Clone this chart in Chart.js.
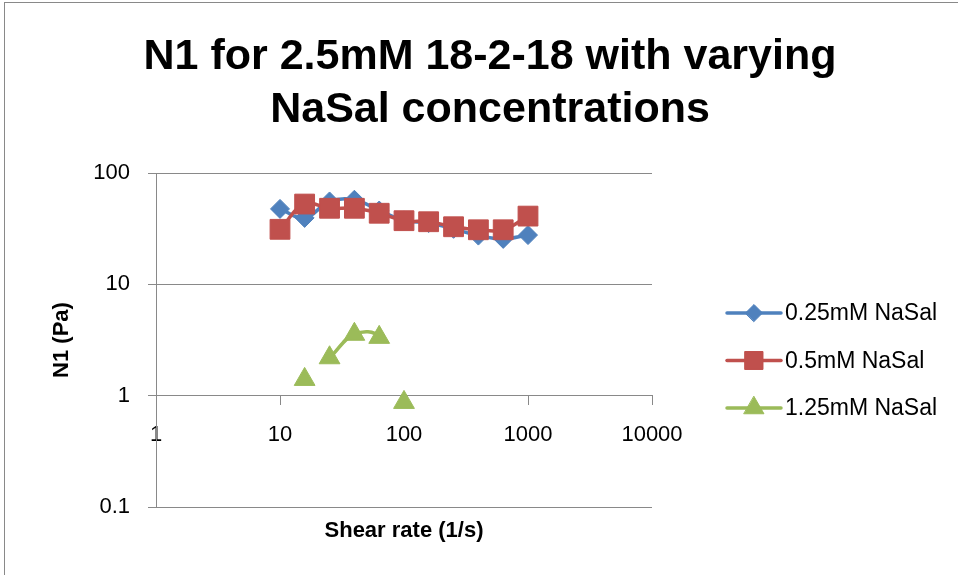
<!DOCTYPE html>
<html>
<head>
<meta charset="utf-8">
<script src="https://cdn.jsdelivr.net/npm/chart.js@4.4.1/dist/chart.umd.min.js"></script>
<style>
  html, body { margin: 0; padding: 0; background: #ffffff; overflow: hidden; }
  #wrap { position: relative; width: 980px; height: 575px; }
</style>
</head>
<body>
<div id="wrap"><canvas id="c" width="980" height="575"></canvas></div>
<script>
// ---- data ----
const titleLines = ['N1 for 2.5mM 18-2-18 with varying', 'NaSal concentrations'];
const xAxisTitle = 'Shear rate (1/s)';
const yAxisTitle = 'N1 (Pa)';
const seriesNames = ['0.25mM NaSal', '0.5mM NaSal', '1.25mM NaSal'];

const shearRates = [10, 15.8, 25.1, 39.8, 63.1, 100, 158, 251, 398, 631, 1000];
const n1_025mM  = [47.6, 39.5, 55.5, 57.5, 46, 37.5, 35.5, 31.5, 27.4, 25.6, 27.7];
const n1_05mM   = [31.2, 52.6, 48.2, 48.2, 43.5, 37.3, 36.5, 32.9, 30.9, 30.9, 41.0];
const shearRates125 = [15.8, 25.1, 39.8, 63.1, 100];
const n1_125mM  = [1.40, 2.19, 3.56, 3.34, 0.87];
// which consecutive points of the 1.25mM series are joined by a line
const linked125 = [false, true, true, false];

const xTickValues = [1, 10, 100, 1000, 10000];
const yTickValues = [0.1, 1, 10, 100];

// ---- styling ----
const BLUE = '#4F81BD', RED = '#C0504D', GREEN = '#9BBB59';
const GRAY = '#898989';
const FONT = "'Liberation Sans', Arial, sans-serif";
Chart.defaults.font.family = FONT;
Chart.defaults.color = '#000000';

const toPoints = (xs, ys) => xs.map((x, i) => ({ x: x, y: ys[i] }));

// gray frame of the chart object (partially cropped in the reference)
const framePlugin = {
  id: 'frame',
  beforeDraw(chart) {
    const ctx = chart.ctx;
    ctx.save();
    ctx.strokeStyle = GRAY;
    ctx.lineWidth = 1;
    ctx.strokeRect(4.5, 2.5, 3000, 3000);
    ctx.restore();
  }
};

// Excel-like legend: line sample with marker in the middle
function drawMarker(ctx, style, x, y, r) {
  ctx.beginPath();
  if (style === 'rectRot') {
    ctx.moveTo(x - r, y); ctx.lineTo(x, y - r); ctx.lineTo(x + r, y); ctx.lineTo(x, y + r);
  } else if (style === 'rect') {
    const s = r * Math.SQRT1_2;
    ctx.rect(x - s, y - s, 2 * s, 2 * s);
  } else if (style === 'triangle') {
    const w = r * Math.sin(Math.PI / 3);
    ctx.moveTo(x, y - r); ctx.lineTo(x + w, y + r / 2); ctx.lineTo(x - w, y + r / 2);
  }
  ctx.closePath();
  ctx.fill();
  ctx.stroke();
}
const legendPlugin = {
  id: 'excelLegend',
  afterDraw(chart) {
    const ctx = chart.ctx;
    const area = chart.chartArea;
    const lineX = area.right + 75, lineLen = 54, textX = lineX + lineLen + 4;
    const y0 = 313, dy = 47.5;
    const legendRadius = [8.5, 12.7, 11.5];
    chart.data.datasets.forEach((ds, i) => {
      const y = y0 + i * dy;
      ctx.save();
      ctx.strokeStyle = ds.borderColor;
      ctx.lineWidth = 3.5;
      ctx.lineCap = 'round';
      ctx.beginPath();
      ctx.moveTo(lineX, y); ctx.lineTo(lineX + lineLen, y);
      ctx.stroke();
      ctx.fillStyle = ds.backgroundColor;
      ctx.lineWidth = 1;
      drawMarker(ctx, ds.pointStyle, lineX + lineLen / 2, y, legendRadius[i]);
      ctx.fillStyle = '#000000';
      ctx.font = '23px ' + FONT;
      ctx.textAlign = 'left';
      ctx.textBaseline = 'middle';
      ctx.fillText(ds.label, textX, y + 1);
      ctx.restore();
    });
  }
};

new Chart(document.getElementById('c'), {
  type: 'line',
  data: {
    datasets: [
      {
        label: seriesNames[0],
        data: toPoints(shearRates, n1_025mM),
        borderColor: BLUE, backgroundColor: BLUE,
        pointStyle: 'rectRot', pointRadius: 9.5, pointBorderWidth: 1,
        borderWidth: 3.5, tension: 0.4, order: 2
      },
      {
        label: seriesNames[1],
        data: toPoints(shearRates, n1_05mM),
        borderColor: RED, backgroundColor: RED,
        pointStyle: 'rect', pointRadius: 14, pointBorderWidth: 1,
        borderWidth: 3.5, tension: 0.4, order: 1
      },
      {
        label: seriesNames[2],
        data: toPoints(shearRates125, n1_125mM),
        borderColor: GREEN, backgroundColor: GREEN,
        pointStyle: 'triangle', pointRadius: 12, pointBorderWidth: 1,
        borderWidth: 3.5, tension: 0.4, order: 0,
        segment: {
          borderColor: c => linked125[c.p0DataIndex] ? GREEN : 'rgba(0,0,0,0)'
        }
      }
    ]
  },
  options: {
    responsive: false,
    animation: false,
    devicePixelRatio: 1,
    layout: { padding: 0 },
    plugins: {
      legend: { display: false },
      tooltip: { enabled: false },
      title: {
        display: true,
        text: titleLines,
        color: '#000000',
        font: { family: FONT, size: 43, weight: 'bold', lineHeight: 53 / 43 },
        padding: { top: 30.5, bottom: 36.5 }
      }
    },
    scales: {
      x: {
        type: 'logarithmic',
        min: 1, max: 10000,
        position: { y: 1 },
        afterBuildTicks: s => { s.ticks = xTickValues.map(v => ({ value: v })); },
        ticks: {
          callback: v => String(v),
          font: { size: 22 }, color: '#000000',
          padding: 17, maxRotation: 0, autoSkip: false
        },
        grid: { drawOnChartArea: false, drawTicks: true, tickLength: 9, color: GRAY, lineWidth: 1 },
        border: { display: true, color: GRAY, width: 1 }
      },
      y: {
        type: 'logarithmic',
        min: 0.1, max: 100,
        position: 'left',
        afterBuildTicks: s => { s.ticks = yTickValues.map(v => ({ value: v })); },
        afterFit: s => { s.width = 156; },
        ticks: {
          callback: v => String(v),
          font: { size: 22 }, color: '#000000',
          padding: 18, autoSkip: false
        },
        grid: { color: GRAY, lineWidth: 1, drawTicks: true, tickLength: 8 },
        border: { display: true, color: GRAY, width: 1 },
        title: {
          display: true, text: yAxisTitle, color: '#000000',
          font: { size: 22, weight: 'bold' },
          padding: { top: 48.8, bottom: 0 }
        }
      },
      xTitleAxis: {
        type: 'linear',
        position: 'bottom',
        grid: { display: false, drawTicks: false },
        border: { display: false },
        ticks: { display: false },
        title: {
          display: true, text: xAxisTitle, color: '#000000',
          font: { size: 22, weight: 'bold' },
          padding: { top: 10.8, bottom: 30.8 }
        }
      },
      legendSpace: {
        type: 'linear',
        position: 'right',
        grid: { display: false, drawTicks: false },
        border: { display: false },
        ticks: { display: false },
        afterFit: s => { s.width = 328; }
      }
    }
  },
  plugins: [framePlugin, legendPlugin]
});
</script>
</body>
</html>
